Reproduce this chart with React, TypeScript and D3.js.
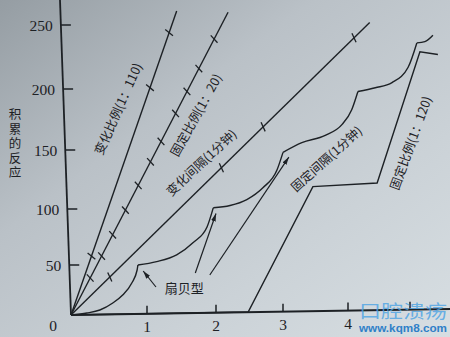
import React from 'react';
import * as d3 from 'd3';

const W = 450;
const H = 337;

// ---- axis data ----
const xKnots = [0, 1, 2, 3, 4, 5];
const yKnots = [0, 50, 100, 150, 200, 250];
const xTickValues = [1, 2, 3, 4, 5];
const xTickLabels = ['1', '2', '3', '4', ''];
const yTickValues = [50, 100, 150, 200, 250];
const yTickLabels = ['50', '100', '150', '200', '250'];
const originLabel = '0';
const yTitle = '积累的反应';

// ---- series (time, cumulative responses) ----
// 变化比例 (1:110)
const vrTime = [0, 1.43];
const vrResp = [0, 261];
const vrMarks = [58, 201, 244];
// 固定比例 (1:20)
const fr20Time = [0, 2.18];
const fr20Resp = [0, 260];
const fr20Marks = [37, 58, 77, 99, 120, 140, 157, 180, 198, 216, 239];
// 变化间隔 (1分钟)
const viTime = [0, 4.35];
const viResp = [0, 252];
const viMarks = [38, 135, 169, 240];
// 固定间隔 (1分钟) — scallops
const fiTime = [0, 0.21, 0.38, 0.55, 0.68, 0.8, 0.87, 0.88, 1.14, 1.43, 1.67, 1.87, 1.96, 2.21, 2.46, 2.7, 2.91, 3.0, 3.29, 3.65, 3.91, 4.06, 4.16, 4.44, 4.71, 4.97, 5.11, 5.24, 5.37];
const fiResp = [0, 2, 5, 12, 20, 32, 45, 50, 53, 59, 70, 84, 101, 103, 108, 118, 133, 148, 156, 162, 171, 183, 198, 201, 205, 217, 236, 237, 242];
const fiReinforcements = [7, 12, 17, 22, 26];
// 固定比例 (1:120)
const fr120Time = [0, 2.48, 3.46, 4.47, 5.16, 5.45];
const fr120Resp = [0, 3, 119, 122, 229, 227];

// ---- annotations ----
const seriesLabels = [
  { text: '变化比例(1：110)', t: 0.61, v: 184, angle: -66 },
  { text: '固定比例(1：20)', t: 1.7, v: 179, angle: -61 },
  { text: '变化间隔(1分钟)', t: 1.78, v: 140, angle: -43 },
  { text: '固定间隔(1分钟)', t: 3.66, v: 143, angle: -42 },
  { text: '固定比例(1：120)', t: 5.0, v: 156, angle: -70 },
];
const scallopLabel = { text: '扇贝型', t: 1.54, v: 28 };
const arrows = [
  { t0: 1.13, v0: 28, t1: 0.95, v1: 44 },
  { t0: 1.7, v0: 42, t1: 2.0, v1: 96 },
  { t0: 1.91, v0: 40, t1: 3.09, v1: 144 },
];
const watermarkCn = '口腔溃疡';
const watermarkUrl = 'www.kqm8.com';

const INK = '#1d2125';
const CJK = '"Noto Sans CJK SC", "Noto Sans", sans-serif';
const SERIF = '"Liberation Serif", "DejaVu Serif", serif';

export default function App() {
  const x = d3.scaleLinear().domain(xKnots).range([71, 147, 216, 283, 348, 410]);
  const y = d3.scaleLinear().domain(yKnots).range([315, 265, 209, 150, 89, 25]);

  // photo perspective: axes slightly tilted
  const yAxisX = (py: number) => 60 + (py * 11) / 315;
  const xAxisY = (px: number) => 315 - ((px - 71) * 6) / 379;

  const line = d3
    .line<[number, number]>()
    .x((d) => x(d[0]))
    .y((d) => y(d[1]));
  const curve = d3
    .line<[number, number]>()
    .x((d) => x(d[0]))
    .y((d) => y(d[1]))
    .curve(d3.curveMonotoneX);

  const zipPts = (ts: number[], vs: number[]) => ts.map((t, i) => [t, vs[i]] as [number, number]);

  // split fixed-interval into scallops
  const fiPts = zipPts(fiTime, fiResp);
  const cuts = [0, ...fiReinforcements, fiPts.length - 1];
  const scallops: [number, number][][] = [];
  for (let i = 0; i < cuts.length - 1; i++) scallops.push(fiPts.slice(cuts[i], cuts[i + 1] + 1));

  const straight = [
    { ts: vrTime, vs: vrResp, marks: vrMarks },
    { ts: fr20Time, vs: fr20Resp, marks: fr20Marks },
    { ts: viTime, vs: viResp, marks: viMarks },
  ];

  const markSegs = (ts: number[], vs: number[], marks: number[]) => {
    const x0 = x(ts[0]), y0 = y(vs[0]), x1 = x(ts[1]), y1 = y(vs[1]);
    const len = Math.hypot(x1 - x0, y1 - y0);
    const dx = (x1 - x0) / len, dy = (y1 - y0) / len;
    let nx = -dy, ny = dx;
    const a = (20 * Math.PI) / 180;
    const rx = nx * Math.cos(a) - ny * Math.sin(a);
    const ry = nx * Math.sin(a) + ny * Math.cos(a);
    nx = rx; ny = ry;
    return marks.map((m) => {
      const py = y(m);
      const f = (py - y0) / (y1 - y0);
      const px = x0 + f * (x1 - x0);
      return { xa: px - nx * 5, ya: py - ny * 5, xb: px + nx * 5, yb: py + ny * 5 };
    });
  };

  return (
    <svg width={W} height={H} style={{ position: 'fixed', left: 0, top: 0 }} xmlns="http://www.w3.org/2000/svg">
      <defs>
        <linearGradient id="paper" x1="0" y1="0" x2="1" y2="1">
          <stop offset="0" stopColor="#959da3" />
          <stop offset="0.35" stopColor="#bac1c7" />
          <stop offset="0.7" stopColor="#cbd2d7" />
          <stop offset="1" stopColor="#d7dee2" />
        </linearGradient>
        <marker id="ah" viewBox="0 0 10 6" refX="10" refY="3" markerWidth="8" markerHeight="5" orient="auto" markerUnits="userSpaceOnUse">
          <path d="M0,0 L10,3 L0,6 Z" fill={INK} />
        </marker>
      </defs>
      <rect x={0} y={0} width={W} height={H} fill="url(#paper)" />

      {/* Y axis */}
      <line x1={yAxisX(0)} y1={0} x2={x(0)} y2={y(0)} stroke={INK} strokeWidth={1.8} />
      {yTickValues.map((v, i) => {
        const py = y(v);
        const ax = yAxisX(py);
        return (
          <g key={'yt' + v}>
            <line x1={ax} y1={py} x2={ax + 10} y2={py} stroke={INK} strokeWidth={1.5} />
            <text x={ax - 8} y={py} textAnchor="end" dominantBaseline="central" fontFamily={SERIF} fontSize={15.5} fill={INK}>
              {yTickLabels[i]}
            </text>
          </g>
        );
      })}
      <text x={53} y={325} textAnchor="middle" dominantBaseline="central" fontFamily={SERIF} fontSize={15.5} fill={INK}>
        {originLabel}
      </text>
      <text
        x={15}
        y={108}
        fontFamily={CJK}
        fontSize={12.5}
        fill={INK}
        style={{ writingMode: 'vertical-rl', letterSpacing: '2px' } as React.CSSProperties}
      >
        {yTitle}
      </text>

      {/* X axis */}
      <line x1={x(0)} y1={y(0)} x2={W} y2={xAxisY(W)} stroke={INK} strokeWidth={1.8} />
      {xTickValues.map((t, i) => {
        const px = x(t);
        const ay = xAxisY(px);
        return (
          <g key={'xt' + t}>
            <line x1={px} y1={ay} x2={px} y2={ay - 8} stroke={INK} strokeWidth={1.5} />
            {xTickLabels[i] ? (
              <text x={px} y={ay + 13} textAnchor="middle" dominantBaseline="central" fontFamily={SERIF} fontSize={15.5} fill={INK}>
                {xTickLabels[i]}
              </text>
            ) : null}
          </g>
        );
      })}

      {/* straight records with reinforcement marks */}
      {straight.map((s, i) => (
        <g key={'s' + i}>
          <path d={line(zipPts(s.ts, s.vs)) || ''} fill="none" stroke={INK} strokeWidth={1.4} />
          {markSegs(s.ts, s.vs, s.marks).map((m, j) => (
            <line key={j} x1={m.xa} y1={m.ya} x2={m.xb} y2={m.yb} stroke={INK} strokeWidth={1.3} />
          ))}
        </g>
      ))}

      {/* fixed interval scallops */}
      {scallops.map((seg, i) => (
        <path key={'fi' + i} d={curve(seg) || ''} fill="none" stroke={INK} strokeWidth={1.4} />
      ))}

      {/* fixed ratio 1:120 */}
      <path d={line(zipPts(fr120Time, fr120Resp)) || ''} fill="none" stroke={INK} strokeWidth={1.4} />

      {/* labels */}
      {seriesLabels.map((l, i) => (
        <text
          key={'lb' + i}
          transform={`translate(${x(l.t)},${y(l.v)}) rotate(${l.angle})`}
          textAnchor="middle"
          dominantBaseline="central"
          fontFamily={CJK}
          fontSize={12.5}
          fill={INK}
        >
          {l.text}
        </text>
      ))}
      <text x={x(scallopLabel.t)} y={y(scallopLabel.v)} textAnchor="middle" dominantBaseline="central" fontFamily={CJK} fontSize={13} fill={INK}>
        {scallopLabel.text}
      </text>
      {arrows.map((a, i) => (
        <line key={'ar' + i} x1={x(a.t0)} y1={y(a.v0)} x2={x(a.t1)} y2={y(a.v1)} stroke={INK} strokeWidth={1.2} markerEnd="url(#ah)" />
      ))}

      {/* watermark */}
      <text x={403} y={310} textAnchor="middle" dominantBaseline="central" fontFamily={CJK} fontSize={18} fill="#4aa2e4" fillOpacity={0.8} textLength={88} lengthAdjust="spacingAndGlyphs">
        {watermarkCn}
      </text>
      <text x={403} y={328} textAnchor="middle" dominantBaseline="central" fontFamily={'"Liberation Sans", Arial, sans-serif'} fontWeight="bold" fontSize={11} fill="#2f80c8" textLength={88} lengthAdjust="spacingAndGlyphs">
        {watermarkUrl}
      </text>
    </svg>
  );
}
